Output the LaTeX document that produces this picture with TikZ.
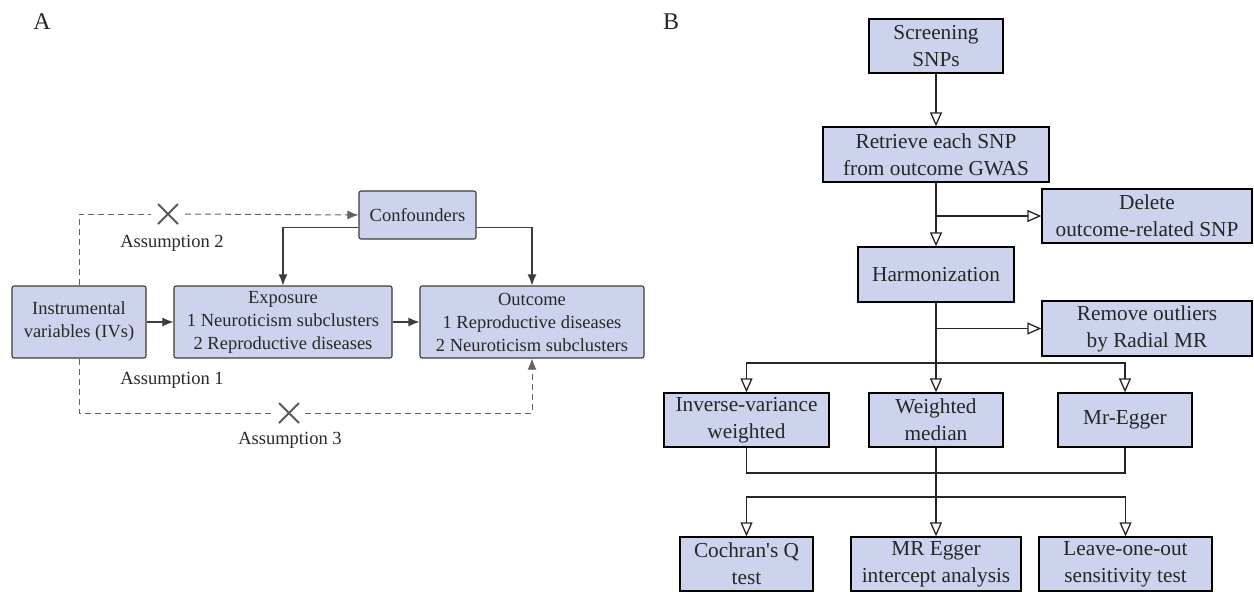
\documentclass[tikz,border=0pt]{standalone}
\usepackage{fontspec}
\setmainfont{Liberation Serif}
\usetikzlibrary{arrows.meta,calc}
\definecolor{boxfill}{RGB}{206,211,237}
\definecolor{linea}{RGB}{60,60,60}
\definecolor{texta}{RGB}{40,40,40}
\tikzset{
  boxa/.style={draw=linea, fill=boxfill, line width=1.1pt, rounded corners=2pt, inner sep=0pt, align=center, text=texta, font=\fontsize{18.5}{23}\selectfont},
  boxb/.style={draw=black, fill=boxfill, line width=1.3pt, inner sep=0pt, align=center, text=black!85, font=\fontsize{21.3}{27}\selectfont},
  arra/.style={draw=linea, line width=1.1pt, -{Latex[length=11pt,width=9pt]}},
  dasha/.style={draw=linea!80, line width=1pt, dash pattern=on 6pt off 4pt},
  dasharr/.style={dasha, -{Latex[length=11pt,width=9pt]}},
  lineb/.style={draw=black!85, line width=1.3pt},
  arrb/.style={lineb, -{Triangle[open,length=14pt,width=12pt,fill=white]}},
  crossa/.style={draw=gray!70!black, line width=1.8pt},
  lbla/.style={text=texta, font=\fontsize{18.5}{23}\selectfont, inner sep=0pt},
  panel/.style={font=\fontsize{24}{28}\selectfont, inner sep=0pt, text=black!85}
}
\begin{document}
\begin{tikzpicture}[x=1pt,y=-1pt]
\useasboundingbox (0,0) rectangle (1254,592);
% ---------- Panel A ----------
\node[panel] (labA) at (42,22) {A};
\node[boxa, minimum width=117pt, minimum height=48pt] (conf) at (417.5,215) {Confounders};
\node[boxa, minimum width=134pt, minimum height=72pt] (iv) at (79,322) {Instrumental\\variables (IVs)};
\node[boxa, minimum width=218pt, minimum height=72pt] (expo) at (283,322) {Exposure\\1 Neuroticism subclusters\\2 Reproductive diseases};
\node[boxa, minimum width=224pt, minimum height=72pt] (outc) at (532,322) {Outcome\\1 Reproductive diseases\\2 Neuroticism subclusters};
\node[lbla] (as2) at (172,243) {Assumption 2};
\node[lbla] (as1) at (172,380) {Assumption 1};
\node[lbla] (as3) at (290,440) {Assumption 3};
% crosses
\coordinate (x2) at (168,214);
\coordinate (x3) at (289,413);
\draw[crossa] ($(x2)+(-10,-10)$) -- ($(x2)+(10,10)$) ($(x2)+(-10,10)$) -- ($(x2)+(10,-10)$);
\draw[crossa] ($(x3)+(-10,-10)$) -- ($(x3)+(10,10)$) ($(x3)+(-10,10)$) -- ($(x3)+(10,-10)$);
% dashed assumption 2
\draw[dasha] (iv.north) -- (iv.north |- x2) -- ($(x2)+(-17,0)$);
\draw[dasharr] ($(x2)+(17,0)$) -- (conf.west);
% dashed assumption 3
\draw[dasha] (iv.south) -- (iv.south |- x3) -- ($(x3)+(-16,0)$);
\draw[dasharr] ($(x3)+(16,0)$) -- (outc.south |- x3) -- (outc.south);
% solid
\draw[arra] ($(conf.south west)+(0,-12)$) -| (expo.north);
\draw[arra] ($(conf.south east)+(0,-12)$) -| (outc.north);
\draw[arra] (iv.east) -- (expo.west);
\draw[arra] (expo.east) -- (outc.west);
% ---------- Panel B ----------
\node[panel] (labB) at (671,22) {B};
\node[boxb, minimum width=134pt, minimum height=54pt] (screen) at (936,46) {Screening\\SNPs};
\node[boxb, minimum width=226pt, minimum height=55pt] (retr) at (936,154.5) {Retrieve each SNP\\from outcome GWAS};
\node[boxb, minimum width=210pt, minimum height=54pt] (del) at (1147,216) {Delete\\outcome-related SNP};
\node[boxb, minimum width=156pt, minimum height=55pt] (harm) at (936,274.5) {Harmonization};
\node[boxb, minimum width=210pt, minimum height=55pt] (remv) at (1147,328.5) {Remove outliers\\by Radial MR};
\node[boxb, minimum width=165pt, minimum height=54pt] (ivw) at (746.5,420) {Inverse-variance\\weighted};
\node[boxb, minimum width=134pt, minimum height=54pt] (wmed) at (936,420) {Weighted\\median};
\node[boxb, minimum width=134pt, minimum height=54pt] (egg) at (1125,420) {Mr-Egger};
\node[boxb, minimum width=133pt, minimum height=54pt] (coch) at (746.5,564) {Cochran\textquotesingle s Q\\test};
\node[boxb, minimum width=170pt, minimum height=54pt] (mrint) at (936,564) {MR Egger\\intercept analysis};
\node[boxb, minimum width=173pt, minimum height=54pt] (loo) at (1125.5,564) {Leave-one-out\\sensitivity test};
\coordinate (b1) at (936,216);
\coordinate (b2) at (936,328.5);
\coordinate (s1) at (936,363);
\coordinate (m1) at (936,473);
\coordinate (s2) at (936,497);
\draw[arrb] (screen.south) -- (retr.north);
\draw[arrb] (retr.south) -- (harm.north);
\draw[arrb] (b1) -- (del.west);
\draw[arrb] (harm.south) -- (wmed.north);
\draw[arrb] (b2) -- (remv.west);
\draw[arrb] (s1) -| (ivw.north);
\draw[arrb] (s1) -| (egg.north);
\draw[lineb] (ivw.south) |- (m1) -| (egg.south);
\draw[arrb] (wmed.south) -- (mrint.north);
\draw[arrb] (s2) -| (coch.north);
\draw[arrb] (s2) -| (loo.north);
\end{tikzpicture}
\end{document}
